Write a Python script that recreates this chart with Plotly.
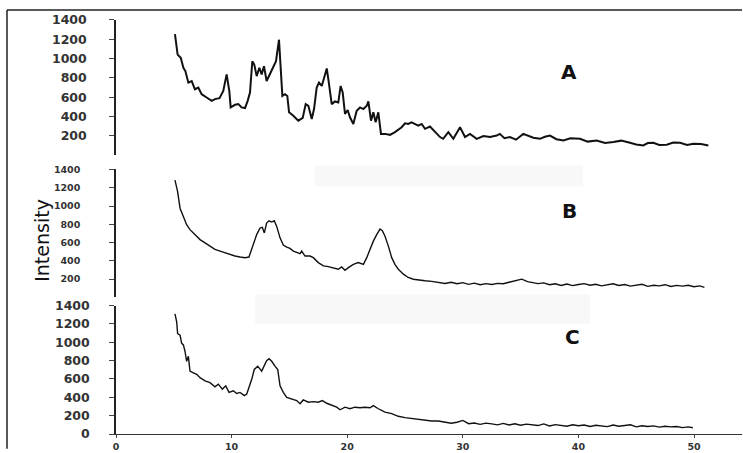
import plotly.graph_objects as go

# ---------------- data ----------------
tick_x_vals = [0, 10, 20, 30, 40, 50]
tick_y_vals_AB = [200, 400, 600, 800, 1000, 1200, 1400]
tick_y_vals_C = [0, 200, 400, 600, 800, 1000, 1200, 1400]
y_title = "Intensity"
panel_labels = ["A", "B", "C"]

A_x = [5.1, 5.33, 5.6, 5.83, 6.0, 6.26, 6.55, 6.83, 7.12, 7.41,
       7.84, 8.28, 8.56, 8.95, 9.28, 9.57, 9.8, 9.92, 10.3, 10.58,
       10.87, 11.16, 11.39, 11.59, 11.79, 11.96, 12.17, 12.4, 12.6, 12.8,
       13.03, 13.47, 13.84, 14.1, 14.27, 14.39, 14.62, 14.82, 14.97, 15.34,
       15.77, 16.15, 16.41, 16.64, 16.93, 17.13, 17.36, 17.56, 17.8, 18.0,
       18.23, 18.37, 18.66, 18.94, 19.23, 19.43, 19.61, 19.81, 20.04, 20.24,
       20.53, 20.82, 21.11, 21.4, 21.69, 21.83, 22.06, 22.26, 22.46, 22.69,
       22.92, 23.27, 23.7, 24.13, 24.42, 24.71, 25.0, 25.28, 25.57, 25.86,
       26.15, 26.44, 26.73, 27.16, 27.6, 28.03, 28.3, 28.75, 29.18, 29.76,
       30.19, 30.62, 31.2, 31.78, 32.35, 32.93, 33.2, 33.6, 34.08, 34.6,
       35.23, 35.64, 36.1, 36.68, 37.1, 37.54, 38.1, 38.7, 39.3, 40.14,
       40.8, 41.58, 42.3, 43.02, 43.7, 44.46, 45.0, 45.61, 46.0, 46.48,
       47.0, 47.64, 48.2, 48.79, 49.4, 49.94, 50.6, 51.24]
A_y = [1253, 1041, 1007, 904, 870, 750, 767, 682, 699, 631,
       597, 562, 580, 590, 665, 836, 665, 494, 521, 528,
       494, 487, 562, 648, 972, 938, 818, 904, 836, 921,
       767, 870, 972, 1195, 836, 613, 631, 613, 443, 408,
       357, 385, 528, 511, 374, 477, 699, 750, 716, 802,
       897, 785, 528, 556, 546, 716, 648, 426, 467, 392,
       323, 460, 494, 477, 511, 556, 357, 443, 340, 443,
       220, 220, 210, 238, 262, 289, 330, 323, 340, 323,
       306, 323, 272, 296, 238, 187, 169, 238, 169, 289,
       187, 220, 169, 197, 187, 203, 220, 175, 187, 160,
       220, 203, 180, 169, 190, 203, 165, 152, 175, 169,
       140, 152, 125, 135, 150, 128, 110, 100, 125, 128,
       105, 108, 130, 128, 105, 118, 115, 100]

B_x = [5.1, 5.33, 5.54, 5.83, 6.11, 6.4, 6.83, 7.27, 7.7, 8.13,
       8.56, 9.0, 9.43, 9.86, 10.29, 10.73, 11.16, 11.5, 11.68, 11.88,
       12.17, 12.46, 12.66, 12.83, 13.03, 13.24, 13.47, 13.69, 13.9, 14.19,
       14.47, 14.77, 15.05, 15.34, 15.63, 15.92, 16.06, 16.35, 16.78, 17.07,
       17.5, 17.94, 18.37, 18.8, 19.23, 19.52, 19.81, 20.1, 20.53, 20.96,
       21.4, 21.69, 21.97, 22.26, 22.55, 22.84, 23.04, 23.27, 23.56, 23.85,
       24.13, 24.42, 24.86, 25.28, 25.72, 26.15, 26.73, 27.31, 27.88,
       28.46, 29.0, 29.5, 30.0, 30.5, 31.0, 31.5, 32.0, 32.5, 33.0,
       33.5, 34.0, 34.5, 35.1, 35.6, 36.0, 36.5, 37.0, 37.5, 38.0,
       38.5, 39.0, 39.5, 40.0, 40.5, 41.0, 41.5, 42.0, 42.5, 43.0,
       43.5, 44.0, 44.5, 45.0, 45.5, 46.0, 46.5, 47.0, 47.5, 48.0,
       48.5, 49.0, 49.5, 50.0, 50.5, 50.9]
B_y = [1283, 1157, 976, 886, 795, 741, 687, 632, 597, 561,
       524, 506, 488, 463, 452, 441, 434, 441, 506, 597,
       687, 759, 767, 705, 813, 838, 824, 838, 777, 651,
       572, 550, 535, 506, 488, 477, 506, 452, 452, 434,
       380, 344, 336, 325, 307, 333, 296, 325, 361, 380,
       361, 434, 524, 615, 687, 748, 730, 669, 561, 434,
       361, 307, 253, 217, 198, 188, 181, 174, 163,
       152, 165, 148, 160, 142, 155, 138, 150, 140, 152,
       148, 165, 178, 199, 172, 160, 150, 158, 138, 148,
       130, 145, 128, 140, 150, 132, 142, 125, 138, 148,
       130, 140, 122, 135, 142, 120, 132, 125, 138, 118,
       130, 122, 132, 115, 125, 108]

C_x = [5.1, 5.25, 5.33, 5.54, 5.68, 5.83, 5.97, 6.11, 6.26, 6.4,
       6.69, 6.98, 7.27, 7.7, 8.13, 8.56, 8.85, 9.2, 9.49, 9.78,
       10.15, 10.44, 10.73, 11.1, 11.31, 11.5, 11.74, 11.96, 12.26, 12.6,
       12.83, 13.03, 13.24, 13.47, 13.75, 13.99, 14.19, 14.47, 14.77, 15.2,
       15.63, 15.92, 16.2, 16.64, 17.07, 17.5, 17.85, 18.23, 18.66, 19.09,
       19.38, 19.81, 20.24, 20.67, 21.11, 21.54, 21.97, 22.26, 22.69, 23.27,
       23.85, 24.42, 25.0, 25.57, 26.15, 26.73, 27.31, 27.88,
       28.46, 29.0, 29.5, 30.0, 30.5, 31.0, 31.5, 32.0, 32.5, 33.0,
       33.5, 34.0, 34.5, 35.0, 35.5, 36.0, 36.5, 37.0, 37.5, 38.0,
       38.5, 39.0, 39.5, 40.0, 40.5, 41.0, 41.5, 42.0, 42.5, 43.0,
       43.5, 44.0, 44.5, 45.0, 45.5, 46.0, 46.5, 47.0, 47.5, 48.0,
       48.5, 49.0, 49.5, 49.9]
C_y = [1310, 1221, 1095, 1078, 988, 971, 899, 792, 846, 685,
       667, 650, 614, 578, 560, 514, 543, 489, 525, 453,
       471, 442, 453, 418, 436, 506, 596, 703, 739, 685,
       757, 800, 821, 792, 739, 703, 525, 453, 399, 382,
       364, 329, 371, 346, 353, 346, 364, 335, 310, 292,
       264, 292, 275, 292, 286, 292, 286, 310, 275, 239,
       222, 193, 179, 168, 157, 150, 142, 142,
       132, 118, 128, 148, 112, 120, 105, 118, 110, 100,
       115, 98, 112, 95, 108, 100, 92, 110, 88, 102,
       95, 85, 100, 90, 98, 82, 95, 88, 80, 98,
       85, 92, 100, 78, 90, 82, 88, 75, 85, 78,
       82, 70, 78, 68]

# ---------------- layout helpers ----------------
W, H = 743, 453
ML, MR, MT, MB = 116, 1, 10, 15
PW, PH = W - ML - MR, H - MT - MB
X_RANGE = [0, 54.15]


def fx(px):
    return (px - ML) / PW


def fy(py):
    return (H - MB - py) / PH


dom_A = [fy(156.5), fy(20)]
dom_B = [fy(300), fy(171)]
dom_C = [fy(H - MB), fy(308.3)]

fig = go.Figure()
fig.add_trace(go.Scatter(x=A_x, y=A_y, mode="lines", xaxis="x", yaxis="y",
                         line=dict(color="#111111", width=2), showlegend=False))
fig.add_trace(go.Scatter(x=B_x, y=B_y, mode="lines", xaxis="x2", yaxis="y2",
                         line=dict(color="#111111", width=1.4), showlegend=False))
fig.add_trace(go.Scatter(x=C_x, y=C_y, mode="lines", xaxis="x3", yaxis="y3",
                         line=dict(color="#111111", width=1.4), showlegend=False))

tick_font_big = dict(family="DejaVu Sans", size=12.5, color="#333333", weight="bold")
tick_font_small = dict(family="DejaVu Sans", size=9.5, color="#333333", weight="bold")

yax_common = dict(range=[0, 1400], showgrid=False, zeroline=False, showline=True,
                  linecolor="#222222", linewidth=1.5, ticks="outside", ticklen=5,
                  tickcolor="#444444", tickwidth=1, fixedrange=True)

fig.update_layout(
    width=W, height=H,
    margin=dict(l=ML, r=MR, t=MT, b=MB),
    paper_bgcolor="white", plot_bgcolor="white",
    xaxis=dict(domain=[0, 1], range=X_RANGE, anchor="y", visible=False),
    xaxis2=dict(domain=[0, 1], range=X_RANGE, anchor="y2", visible=False),
    xaxis3=dict(domain=[0, 1], range=X_RANGE, anchor="y3", showgrid=False,
                zeroline=False, showline=True, linecolor="#333333", linewidth=1.2,
                ticks="outside", ticklen=3, tickcolor="#444444",
                tickvals=tick_x_vals, ticktext=[str(v) for v in tick_x_vals],
                tickfont=dict(family="DejaVu Sans", size=9.5, color="#333333", weight="bold")),
    yaxis=dict(domain=dom_A, anchor="x", tickvals=tick_y_vals_AB,
               ticktext=[str(v) for v in tick_y_vals_AB], tickfont=tick_font_big,
               ticklabelstandoff=20, **yax_common),
    yaxis2=dict(domain=dom_B, anchor="x2", tickvals=tick_y_vals_AB,
                ticktext=[str(v) for v in tick_y_vals_AB], tickfont=tick_font_small,
                ticklabelstandoff=27, **yax_common),
    yaxis3=dict(domain=dom_C, anchor="x3", tickvals=tick_y_vals_C,
                ticktext=[str(v) for v in tick_y_vals_C], tickfont=tick_font_big,
                ticklabelstandoff=17, **yax_common),
)

# frame (left + top border) and faint scan bands
shapes = [
    dict(type="line", xref="paper", yref="paper", x0=fx(7), x1=fx(7), y0=fy(H), y1=fy(10),
         line=dict(color="#222222", width=1.5)),
    dict(type="line", xref="paper", yref="paper", x0=fx(7), x1=fx(742), y0=fy(10), y1=fy(10),
         line=dict(color="#222222", width=1.5)),
    dict(type="rect", xref="paper", yref="paper", x0=fx(315), x1=fx(583), y0=fy(188), y1=fy(167),
         fillcolor="#f8f8f8", line=dict(width=0), layer="below"),
    dict(type="rect", xref="paper", yref="paper", x0=fx(255), x1=fx(590), y0=fy(327), y1=fy(297),
         fillcolor="#f8f8f8", line=dict(width=0), layer="below"),
]
fig.update_layout(shapes=shapes)

annotations = [
    dict(text=y_title, xref="paper", yref="paper", x=fx(42), y=fy(243), showarrow=False,
         textangle=-90, xanchor="center", yanchor="middle",
         font=dict(family="DejaVu Sans", size=19, color="#111111")),
]
for lab, (px, py) in zip(panel_labels, [(569, 73), (569, 213), (572, 340)]):
    annotations.append(dict(text=lab, xref="paper", yref="paper", x=fx(px), y=fy(py),
                            showarrow=False, xanchor="center", yanchor="middle",
                            font=dict(family="DejaVu Sans", size=20, color="#111111",
                                      weight="bold")))
fig.update_layout(annotations=annotations)

fig.write_html("out.html", config={"displayModeBar": False},
               post_script="document.body.style.margin='0';document.body.style.overflow='hidden';")
